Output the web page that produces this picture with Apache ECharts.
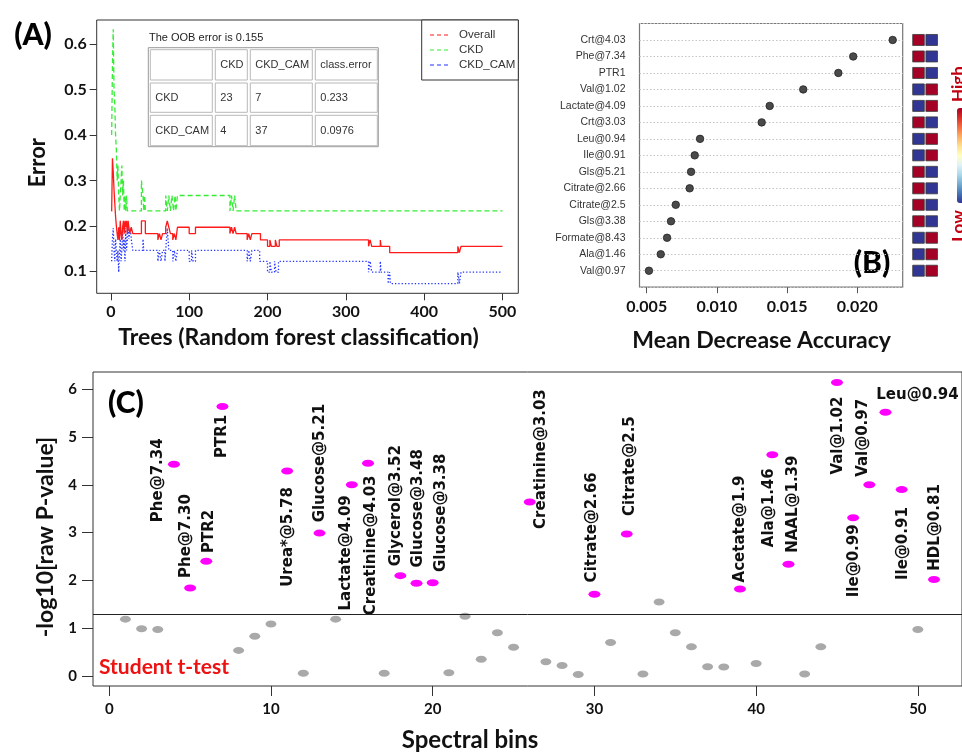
<!DOCTYPE html>
<html><head><meta charset="utf-8">
<script src="https://cdn.jsdelivr.net/npm/echarts@6/dist/echarts.min.js"></script>
<style>html,body{margin:0;padding:0;background:#fff}#chart{width:962px;height:753px}</style>
</head><body><div id="chart"></div>
<script>
// ===== Panel A: OOB error vs number of trees (step change points [tree, error]) =====
const overallSteps = [[1,0.232],[2,0.349],[3,0.32],[4,0.28],[5,0.25],[6,0.22],[7,0.2],[8,0.183],[9,0.169],[10,0.197],[11,0.169],[12,0.211],[13,0.183],[14,0.169],[15,0.197],[16,0.211],[17,0.183],[18,0.211],[19,0.197],[20,0.211],[21,0.183],[22,0.211],[23,0.197],[24,0.183],[26,0.197],[28,0.183],[39,0.211],[44,0.183],[60,0.169],[62,0.183],[64,0.169],[66,0.183],[70,0.197],[72,0.211],[74,0.197],[76,0.183],[79,0.169],[81,0.183],[83,0.169],[85,0.197],[100,0.183],[108,0.197],[152,0.183],[154,0.197],[156,0.183],[158,0.197],[160,0.183],[174,0.169],[176,0.183],[178,0.169],[180,0.183],[191,0.169],[200,0.155],[203,0.169],[205,0.155],[210,0.169],[212,0.155],[215,0.169],[329,0.155],[331,0.169],[333,0.155],[344,0.169],[345,0.155],[356,0.141],[443,0.155],[445,0.141],[447,0.155],[500,0.155]];
const ckdSteps = [[1,0.4],[2,0.55],[3,0.633],[4,0.5],[5,0.467],[6,0.4],[7,0.367],[8,0.3],[9,0.333],[10,0.267],[11,0.233],[12,0.267],[13,0.3],[14,0.333],[15,0.267],[16,0.3],[17,0.233],[18,0.267],[19,0.233],[20,0.267],[21,0.233],[39,0.3],[41,0.267],[42,0.233],[43,0.267],[44,0.233],[70,0.267],[72,0.233],[74,0.267],[76,0.233],[78,0.267],[80,0.233],[82,0.267],[83,0.233],[85,0.267],[152,0.233],[154,0.267],[156,0.233],[158,0.267],[160,0.233],[500,0.233]];
const ckdCamSteps = [[1,0.122],[2,0.171],[3,0.195],[4,0.146],[5,0.122],[6,0.171],[7,0.146],[8,0.122],[9,0.146],[10,0.098],[11,0.146],[12,0.171],[13,0.122],[14,0.146],[15,0.195],[16,0.146],[17,0.171],[18,0.122],[19,0.195],[20,0.146],[21,0.171],[22,0.195],[23,0.171],[25,0.195],[26,0.171],[28,0.146],[41,0.171],[42,0.146],[60,0.122],[62,0.146],[64,0.122],[66,0.146],[69,0.122],[70,0.146],[72,0.195],[74,0.146],[79,0.122],[81,0.146],[83,0.122],[85,0.146],[100,0.122],[103,0.146],[105,0.122],[108,0.146],[174,0.122],[176,0.146],[178,0.122],[180,0.146],[190,0.122],[200,0.098],[203,0.122],[205,0.098],[209,0.122],[211,0.098],[214,0.122],[329,0.098],[331,0.122],[333,0.098],[344,0.122],[345,0.098],[354,0.073],[356,0.098],[357,0.073],[443,0.098],[445,0.073],[447,0.098],[500,0.098]];
const seriesNamesA = ['Overall', 'CKD', 'CKD_CAM'];
const treeTicks = [0, 100, 200, 300, 400, 500];
const errorTicks = [0.1, 0.2, 0.3, 0.4, 0.5, 0.6];
const oobText = 'The OOB error is 0.155';
const confHeader = ['', 'CKD', 'CKD_CAM', 'class.error'];
const confRow1 = ['CKD', '23', '7', '0.233'];
const confRow2 = ['CKD_CAM', '4', '37', '0.0976'];

// ===== Panel B: Mean decrease accuracy =====
const features = ['Crt@4.03','Phe@7.34','PTR1','Val@1.02','Lactate@4.09','Crt@3.03','Leu@0.94','Ile@0.91','Gls@5.21','Citrate@2.66','Citrate@2.5','Gls@3.38','Formate@8.43','Ala@1.46','Val@0.97'];
const mda = [0.02252,0.01971,0.01865,0.01615,0.01376,0.01319,0.0088,0.00842,0.00816,0.00806,0.00707,0.00673,0.00645,0.0060,0.00516];
const levelCKD = [1,1,1,0,0,1,0,0,1,1,1,1,0,0,0];
const levelCAM = [0,0,0,1,1,0,1,1,0,0,0,0,1,1,1];
const mdaTicks = [0.005, 0.010, 0.015, 0.020];

// ===== Panel C: Student t-test =====
const bins = [1,2,3,4,5,6,7,8,9,10,11,12,13,14,15,16,17,18,19,20,21,22,23,24,25,26,27,28,29,30,31,32,33,34,35,36,37,38,39,40,41,42,43,44,45,46,47,48,49,50,51];
const negLogP = [1.19,0.99,0.975,4.43,1.84,2.40,5.64,0.536,0.83,1.09,4.29,0.056,2.99,1.19,4.00,4.45,0.056,2.10,1.94,1.95,0.07,1.25,0.35,0.905,0.60,3.64,0.30,0.22,0.03,1.71,0.70,2.97,0.04,1.55,0.905,0.61,0.195,0.19,1.82,0.26,4.63,2.34,0.04,0.61,6.14,3.31,4.00,5.52,3.90,0.975,2.02];
const sigBins = [4,5,6,7,11,13,15,16,18,19,20,26,30,32,39,41,42,45,46,47,48,49,51];
const sigNames = ['Phe@7.34','Phe@7.30','PTR2','PTR1','Urea*@5.78','Glucose@5.21','Lactate@4.09','Creatinine@4.03','Glycerol@3.52','Glucose@3.48','Glucose@3.38','Creatinine@3.03','Citrate@2.66','Citrate@2.5','Acetate@1.9','Ala@1.46','NAAL@1.39','Val@1.02','Ile@0.99','Val@0.97','Leu@0.94','Ile@0.91','HDL@0.81'];
const binTicks = [0, 10, 20, 30, 40, 50];
const pTicks = [0, 1, 2, 3, 4, 5, 6];
const threshold = 1.30103;

// ----- layout only (label offsets in px relative to each point) -----
const labelDx = [-16,-4,3,0,1,1,-6,3,-4,2,8,11,-2,3,0,-3,5,1,1,-6,32,1,1];
const labelDy = [16,-52,-30,30,66,-70,68,82,-70,-75,-70,-43,-67,-68,-60,53,-60,53,43,-47,-17,54,-52];
const labelVertical = sigNames.map(n => n !== 'Leu@0.94');

const BOLD = 'Lato';
const SANS = "'Liberation Sans',Arial,sans-serif";
const colorsA = ['#FF1A1A', '#33EE33', '#2233FF'];

const chart = echarts.init(document.getElementById('chart'), null, {renderer: 'canvas'});

const magData = [], grayData = [];
bins.forEach((b, i) => {
  if (sigBins.indexOf(b) >= 0) magData.push([b, negLogP[i]]); else grayData.push([b, negLogP[i]]);
});
const hmData = [];
features.forEach((f, i) => { hmData.push([0, i, levelCKD[i]]); hmData.push([1, i, levelCAM[i]]); });

function tickAxis(extra) {
  return Object.assign({
    type: 'value', splitLine: {show: false},
    axisLine: {show: false, onZero: false},
  }, extra);
}
const tickLab = (size, margin, fmt) => ({fontFamily: BOLD, fontWeight: 'bold', fontSize: size, color: '#111', margin: margin, formatter: fmt});

// table graphics
const colX = [148.3, 213.3, 248.3, 313.3, 378.3];
const rowY = [47.7, 81, 113.3, 146.7];
const tableRows = [confHeader, confRow1, confRow2];
const graphics = [];
graphics.push({type: 'text', id: 'oob', x: 149, y: 37.5, style: {text: oobText, fontFamily: 'Liberation Sans', fontSize: 11, fill: '#222', verticalAlign: 'middle', textVerticalAlign: 'middle'}});
graphics.push({type: 'rect', id: 'tblOuter', shape: {x: 148.3, y: 47.7, width: 230, height: 99}, style: {fill: '#fff', stroke: '#999', lineWidth: 1}});
tableRows.forEach((row, r) => row.forEach((cell, c) => {
  graphics.push({type: 'rect', id: 'cell' + r + c, shape: {x: colX[c] + 2, y: rowY[r] + 2, width: colX[c+1] - colX[c] - 3, height: rowY[r+1] - rowY[r] - 3}, style: {fill: '#fff', stroke: '#b8b8b8', lineWidth: 1}});
  if (cell) graphics.push({type: 'text', id: 'ct' + r + c, x: colX[c] + 7, y: (rowY[r] + rowY[r+1]) / 2 + 1, style: {text: cell, fontFamily: 'Liberation Sans', fontSize: 11, fill: '#333', verticalAlign: 'middle', textVerticalAlign: 'middle'}});
}));
// legend box for panel A (dashed samples + names)
graphics.push({type: 'rect', id: 'legBox', shape: {x: 421.7, y: 20, width: 96.6, height: 60}, style: {fill: '#fff', stroke: '#333', lineWidth: 1}, z: 10});
seriesNamesA.forEach((n, i) => {
  const yy = 35 + i * 15;
  graphics.push({type: 'line', id: 'legLine' + i, shape: {x1: 430, y1: yy, x2: 449, y2: yy}, style: {stroke: colorsA[i], lineWidth: 1.2, lineDash: [4, 3]}, z: 11});
  graphics.push({type: 'text', id: 'legText' + i, x: 459, y: yy, style: {text: n, fontFamily: 'Liberation Sans', fontSize: 11.5, fill: '#333', verticalAlign: 'middle', textVerticalAlign: 'middle'}, z: 11});
});
const panelLab = (id, t, x, y) => ({type: 'text', id: id, x: x, y: y, style: {text: t, fontFamily: BOLD, fontWeight: 900, fontSize: 30, fill: '#000', align: 'center', textAlign: 'center', verticalAlign: 'middle', textVerticalAlign: 'middle'}});
graphics.push(panelLab('pa', '(A)', 33, 35));
graphics.push(panelLab('pb', '(B)', 872, 263));
graphics.push(panelLab('pc', '(C)', 126, 403));
graphics.push({type: 'text', id: 'ttest', x: 99, y: 667, style: {text: 'Student t-test', fontFamily: BOLD, fontWeight: 'bold', fontSize: 21, fill: '#EE1111', verticalAlign: 'middle', textVerticalAlign: 'middle'}});
graphics.push({type: 'text', id: 'high', x: 959, y: 84, rotation: Math.PI / 2, style: {text: 'High', fontFamily: BOLD, fontWeight: 'bold', fontSize: 17, fill: '#C00010', align: 'center', textAlign: 'center', verticalAlign: 'middle', textVerticalAlign: 'middle'}});
graphics.push({type: 'text', id: 'low', x: 959, y: 226, rotation: Math.PI / 2, style: {text: 'Low', fontFamily: BOLD, fontWeight: 'bold', fontSize: 17, fill: '#C00010', align: 'center', textAlign: 'center', verticalAlign: 'middle', textVerticalAlign: 'middle'}});

const option = {
  animation: false,
  backgroundColor: '#fff',
  grid: [
    {left: 96.7, top: 20, width: 421.6, height: 273.3, show: true, borderColor: '#333', borderWidth: 1, containLabel: false},
    {left: 639.5, top: 23.5, width: 263.2, height: 263.7, show: true, borderColor: '#777', borderWidth: 1.2, containLabel: false},
    {left: 911.9, top: 23.5, width: 26.4, height: 263.7, containLabel: false},
    {left: 93, top: 372, width: 871, height: 314.7, show: true, borderColor: '#333', borderWidth: 1, containLabel: false}
  ],
  xAxis: [
    tickAxis({gridIndex: 0, min: -18.1, max: 520.2,
      axisTick: {show: true, customValues: treeTicks, length: 7, lineStyle: {color: '#333'}},
      axisLabel: Object.assign(tickLab(16, 11, v => String(v)), {customValues: treeTicks}),
      name: 'Trees (Random forest classification)', nameLocation: 'middle', nameGap: 33,
      nameTextStyle: {fontFamily: BOLD, fontWeight: 'bold', fontSize: 23, color: '#111', padding: [0, 18, 0, 0]}}),
    tickAxis({gridIndex: 1, min: 0.004487, max: 0.023234,
      axisTick: {show: true, customValues: mdaTicks, length: 6, lineStyle: {color: '#555'}},
      axisLabel: Object.assign(tickLab(16, 12, v => v.toFixed(3)), {customValues: mdaTicks}),
      name: 'Mean Decrease Accuracy', nameLocation: 'middle', nameGap: 42,
      nameTextStyle: {fontFamily: BOLD, fontWeight: 'bold', fontSize: 23, color: '#111', padding: [0, 19, 0, 0]}}),
    tickAxis({gridIndex: 2, min: -0.5, max: 1.5, show: false}),
    tickAxis({gridIndex: 3, min: -1.005, max: 52.73,
      axisTick: {show: true, customValues: binTicks, length: 10, lineStyle: {color: '#333'}},
      axisLabel: Object.assign(tickLab(15, 16, v => String(v)), {customValues: binTicks}),
      name: 'Spectral bins', nameLocation: 'middle', nameGap: 42,
      nameTextStyle: {fontFamily: BOLD, fontWeight: 'bold', fontSize: 24, color: '#111', padding: [0, 115, 0, 0]}})
  ],
  yAxis: [
    tickAxis({gridIndex: 0, min: 0.0515, max: 0.6536,
      axisTick: {show: true, customValues: errorTicks, length: 7, lineStyle: {color: '#333'}},
      axisLabel: Object.assign(tickLab(16, 10, v => v.toFixed(1)), {customValues: errorTicks}),
      name: 'Error', nameLocation: 'middle', nameGap: 48, nameRotate: 90,
      nameTextStyle: {fontFamily: BOLD, fontWeight: 'bold', fontSize: 22, color: '#111', padding: [0, 12, 0, 0]}}),
    tickAxis({gridIndex: 1, min: -1, max: 15, interval: 1, inverse: true,
      axisTick: {show: false},
      splitLine: {show: true, lineStyle: {color: '#c4c4c4', type: [1.5, 2], width: 1}},
      axisLabel: {fontFamily: SANS, fontSize: 10.5, color: '#333', margin: 14, formatter: v => features[v] || ''}}),
    tickAxis({gridIndex: 2, min: -1, max: 15, inverse: true, show: false}),
    tickAxis({gridIndex: 3, min: -0.209, max: 6.361,
      axisTick: {show: true, customValues: pTicks, length: 11, lineStyle: {color: '#333'}},
      axisLabel: Object.assign(tickLab(15, 16, v => String(v)), {customValues: pTicks}),
      name: '-log10[raw P-value]', nameLocation: 'middle', nameGap: 33, nameRotate: 90,
      nameTextStyle: {fontFamily: BOLD, fontWeight: 'bold', fontSize: 23, color: '#111', padding: [0, 16, 0, 0]}})
  ],
  visualMap: {
    type: 'continuous', min: 0, max: 1, seriesIndex: 4, dimension: 2,
    left: 957, top: 108, itemWidth: 10, itemHeight: 95, padding: 0,
    calculable: false, text: null, showLabel: false, hoverLink: false,
    inRange: {color: ['#313695','#4575b4','#74add1','#abd9e9','#e0f3f8','#ffffbf','#fee090','#fdae61','#f46d43','#d73027','#a50026']}
  },
  series: [
    {name: seriesNamesA[0], type: 'line', xAxisIndex: 0, yAxisIndex: 0, step: 'end', symbol: 'none', data: overallSteps,
      lineStyle: {color: colorsA[0], width: 1.3, type: 'solid'}, itemStyle: {color: colorsA[0]}, z: 4},
    {name: seriesNamesA[1], type: 'line', xAxisIndex: 0, yAxisIndex: 0, step: 'end', symbol: 'none', data: ckdSteps,
      lineStyle: {color: colorsA[1], width: 1.3, type: [5, 3]}, itemStyle: {color: colorsA[1]}, z: 3},
    {name: seriesNamesA[2], type: 'line', xAxisIndex: 0, yAxisIndex: 0, step: 'end', symbol: 'none', data: ckdCamSteps,
      lineStyle: {color: colorsA[2], width: 1.3, type: [1.3, 2]}, itemStyle: {color: colorsA[2]}, z: 3},
    {type: 'scatter', xAxisIndex: 1, yAxisIndex: 1, symbol: 'circle', symbolSize: 7.5,
      data: mda.map((v, i) => [v, i]), itemStyle: {color: '#4a4a4a', borderColor: '#222', borderWidth: 0.8, opacity: 1}, z: 5},
    {type: 'scatter', xAxisIndex: 2, yAxisIndex: 2, symbol: 'rect', symbolSize: [11.6, 11],
      data: hmData, itemStyle: {borderColor: '#3a3a3a', borderWidth: 0.8, opacity: 1}},
    {type: 'scatter', xAxisIndex: 3, yAxisIndex: 3, symbol: 'circle', symbolSize: [11, 7],
      data: grayData, itemStyle: {color: '#A9A9A9', opacity: 1}},
    {type: 'scatter', xAxisIndex: 3, yAxisIndex: 3, symbol: 'circle', symbolSize: [12, 7],
      data: magData, itemStyle: {color: '#FF00FF', opacity: 1}, z: 5,
      markLine: {silent: true, symbol: 'none', label: {show: false}, lineStyle: {color: '#222', type: 'solid', width: 1},
        data: [{yAxis: threshold}]}}
  ],
  graphic: {elements: graphics}
};
chart.setOption(option);

// rotated point labels for panel C, placed through the axis scales
const labelEls = sigBins.map((b, k) => {
  const i = bins.indexOf(b);
  const p = chart.convertToPixel({xAxisIndex: 3, yAxisIndex: 3}, [b, negLogP[i]]);
  return {type: 'text', id: 'lab' + k, x: p[0] + labelDx[k], y: p[1] + labelDy[k],
    rotation: labelVertical[k] ? Math.PI / 2 : 0,
    style: {text: sigNames[k], fontFamily: 'DejaVu Sans', fontWeight: 'bold', fontSize: 15, fill: '#111',
      align: 'center', textAlign: 'center', verticalAlign: 'middle', textVerticalAlign: 'middle'}};
});
chart.setOption({graphic: {elements: graphics.concat(labelEls)}});
</script></body></html>
